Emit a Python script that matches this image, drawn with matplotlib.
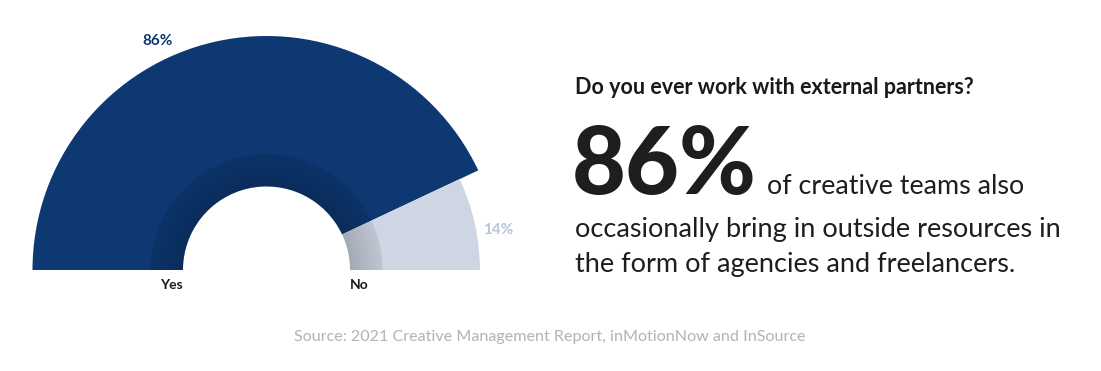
import numpy as np
import matplotlib.pyplot as plt
from matplotlib.patches import Wedge

# data
labels = ['Yes', 'No']
values = [86, 14]
pct_labels = ['86%', '14%']
colors = ['#0d3872', '#cfd6e3']
label_colors = ['#0d3872', '#b9c4d8']
radii = [1.0, 0.912]          # "No" slice is drawn a bit shorter

plt.rcParams['font.family'] = ['Lato', 'DejaVu Sans']

fig = plt.figure(figsize=(11.01, 3.71), dpi=100)
W, H = 1101, 371

# donut axes, mapped to pixels of the left half
cx, cy = 266.5, 270          # centre in pixels (from top)
s = 234                      # pixels per unit
ax = fig.add_axes([0, 0, 550 / W, 1])
ax.set_xlim(-cx / s, (550 - cx) / s)
ax.set_ylim(-(H - cy) / s, cy / s)
ax.axis('off')

hole = 0.357
shade = 0.496
total = sum(values)
start = 180
for v, col, r in zip(values, colors, radii):
    span = v / total * 180
    ax.add_patch(Wedge((0, 0), r, start - span, start, width=r - hole,
                       facecolor=col, edgecolor='none'))
    start -= span

# inner shadow ring, darker toward the hole
n = 14
edges = np.linspace(hole, shade, n + 1)
for i in range(n):
    a = 0.20 - 0.12 * i / (n - 1)
    ax.add_patch(Wedge((0, 0), edges[i + 1], 0, 180, width=edges[i + 1] - edges[i],
                       facecolor='black', alpha=a, edgecolor='none'))

# percentage labels
ax.text((158 - cx) / s, (cy - 41) / s, pct_labels[0], color=label_colors[0], fontsize=11,
        fontweight='bold', ha='center', va='center')
ax.text((498 - cx) / s, (cy - 230) / s, pct_labels[1], color=label_colors[1], fontsize=11,
        fontweight='bold', ha='center', va='center')

# category labels at the hole edges
ax.text(-hole, -15 / s, labels[0], color='#1a1a1a', fontsize=10,
        fontweight='bold', ha='right', va='center')
ax.text(hole, -15 / s, labels[1], color='#1a1a1a', fontsize=10,
        fontweight='bold', ha='left', va='center')

# right-hand text
fig.text(575 / W, 1 - 87 / H, 'Do you ever work with external partners?',
         fontsize=15.5, fontweight='bold', color='#1a1a1a', va='center', ha='left')
fig.text(572 / W, 1 - 194 / H, pct_labels[0], fontsize=67, fontweight='black',
         color='#1e1e1e', va='baseline', ha='left')
fig.text(767 / W, 1 - 194 / H, 'of creative teams also',
         fontsize=19.4, color='#1e1e1e', va='baseline', ha='left')
fig.text(575 / W, 1 - 237 / H, 'occasionally bring in outside resources in',
         fontsize=19.5, color='#1e1e1e', va='baseline', ha='left')
fig.text(575 / W, 1 - 272 / H, 'the form of agencies and freelancers.',
         fontsize=19.5, color='#1e1e1e', va='baseline', ha='left')

# source
fig.text(550 / W, 1 - 337 / H,
         'Source: 2021 Creative Management Report, inMotionNow and InSource',
         fontsize=11.6, color='#b3b3b3', va='center', ha='center')

fig.savefig('out.png', dpi=100, facecolor='white')
